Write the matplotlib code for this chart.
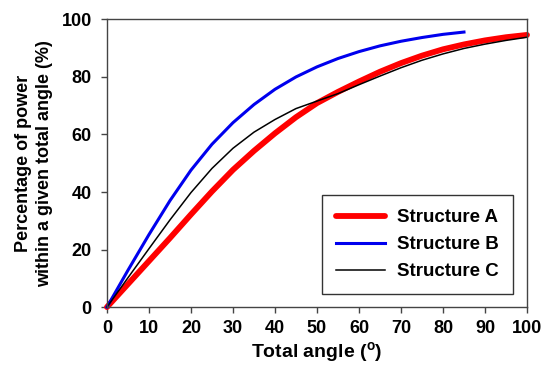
import matplotlib
matplotlib.use("Agg")
import matplotlib.pyplot as plt
import numpy as np

angle_a = [0, 5, 10, 15, 20, 25, 30, 35, 40, 45, 50, 55, 60, 65, 70, 75, 80, 85, 90, 95, 100]
power_a = [0, 8, 16, 24, 32.2, 40.2, 47.7, 54.3, 60.4, 66, 70.9, 74.8, 78.4, 81.8, 84.8, 87.4, 89.6, 91.3, 92.7, 93.8, 94.6]

angle_b = [0, 5, 10, 15, 20, 25, 30, 35, 40, 45, 50, 55, 60, 65, 70, 75, 80, 85]
power_b = [0, 12.8, 25.2, 37, 47.6, 56.6, 64.1, 70.4, 75.7, 80, 83.5, 86.4, 88.8, 90.8, 92.4, 93.7, 94.8, 95.6]

angle_c = [0, 5, 10, 15, 20, 25, 30, 35, 40, 45, 50, 55, 60, 65, 70, 75, 80, 85, 90, 95, 100]
power_c = [0, 10.2, 20.3, 30.3, 39.8, 48.2, 55.2, 60.8, 65.2, 69.0, 71.6, 74.2, 77.3, 80.3, 83.2, 85.8, 88, 89.9, 91.4, 92.7, 93.8]

labels = ["Structure A", "Structure B", "Structure C"]
xticks = [0, 10, 20, 30, 40, 50, 60, 70, 80, 90, 100]
yticks = [0, 20, 40, 60, 80, 100]

plt.rcParams['font.family'] = ['Liberation Sans', 'DejaVu Sans']
plt.rcParams['font.weight'] = 'bold'
plt.rcParams['mathtext.fontset'] = 'custom'
plt.rcParams['mathtext.bf'] = 'Liberation Sans:bold'
plt.rcParams['mathtext.rm'] = 'Liberation Sans:bold'

fig = plt.figure(figsize=(5.43, 3.66), dpi=100)
ax = fig.add_axes([0.197, 0.161, 0.7735, 0.786])

ax.plot(angle_a, power_a, color='#ff0000', lw=4.2, label=labels[0], clip_on=False, solid_capstyle='round')
ax.plot(angle_b, power_b, color='#0000ee', lw=2.2, label=labels[1], clip_on=False)
ax.plot(angle_c, power_c, color='black', lw=1.1, label=labels[2], clip_on=False)

ax.set_xlim(0, 100)
ax.set_ylim(0, 100)
ax.set_xticks(xticks)
ax.set_yticks(yticks)
ax.tick_params(direction='out', length=4, width=1, color='#444444', labelsize=13)
ax.tick_params(axis='x', pad=5)
ax.tick_params(axis='y', pad=7)
for lab in ax.get_xticklabels() + ax.get_yticklabels():
    lab.set_fontweight('bold')
for s in ax.spines.values():
    s.set_color('#444444')
    s.set_linewidth(1)

ax.set_xlabel(r'Total angle ($^\mathrm{o}$)', fontsize=14, fontweight='bold', labelpad=3)
ax.set_ylabel('Percentage of power\nwithin a given total angle (%)', fontsize=13, fontweight='bold', labelpad=6, linespacing=1.35)

leg = ax.legend(loc='lower right', bbox_to_anchor=(0.966, 0.045), frameon=True, fancybox=False,
                edgecolor='black', fontsize=13.5, handlelength=2.6, handletextpad=0.65,
                borderpad=0.75, labelspacing=0.52, borderaxespad=0)
leg.get_frame().set_linewidth(1)
for t in leg.get_texts():
    t.set_fontweight('bold')

fig.savefig('out.png', dpi=100)
